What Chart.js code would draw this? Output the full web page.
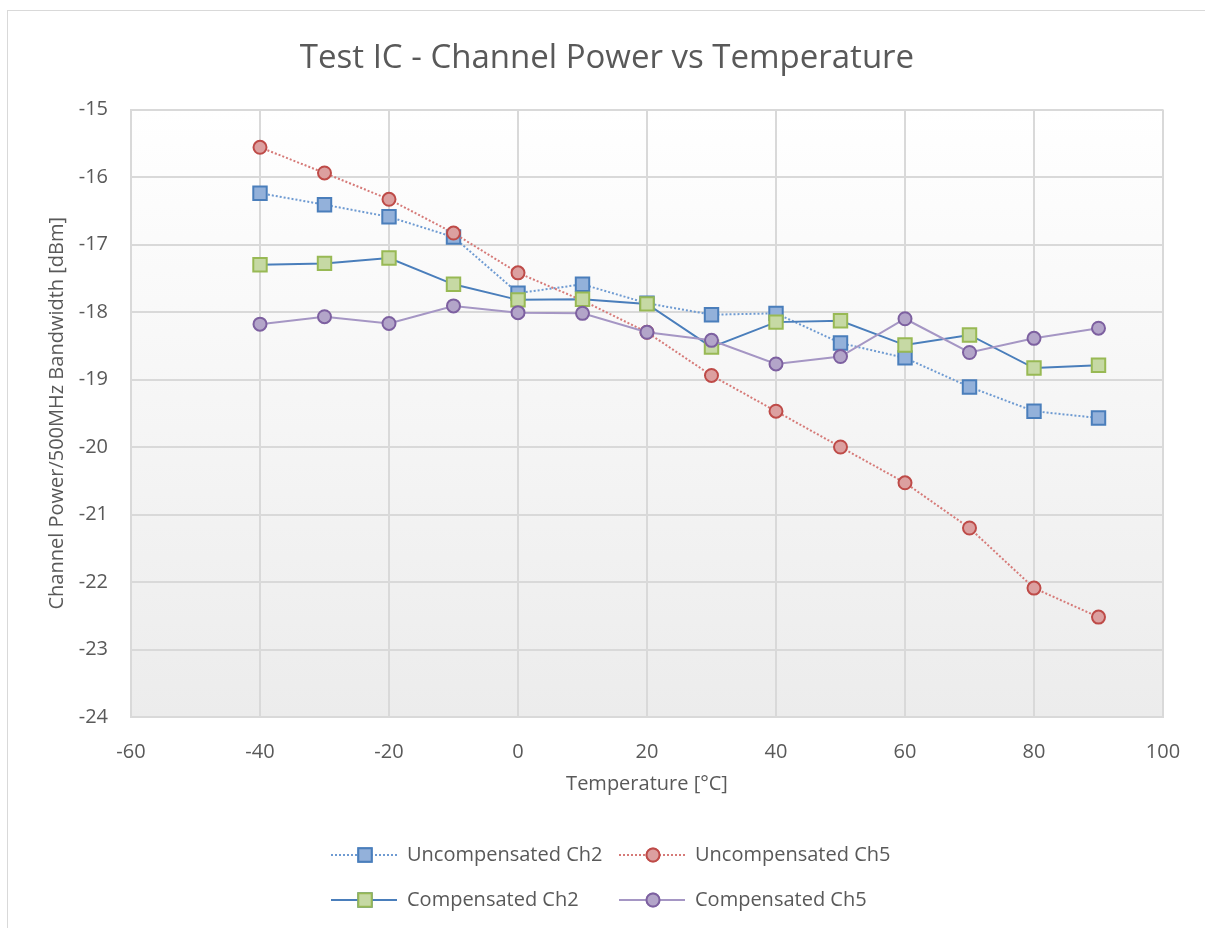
<!DOCTYPE html>
<html>
<head>
<meta charset="utf-8">
<script src="https://cdn.jsdelivr.net/npm/chart.js@4"></script>
<style>
  html, body { margin: 0; padding: 0; background: #fff; overflow: hidden; }
  .frame { position: absolute; left: 7px; top: 10px; width: 1220px; height: 940px; border: 1px solid #d9d9d9; }
  .wrap { position: absolute; left: 0; top: 1px; width: 1198px; height: 925px; }
</style>
</head>
<body>
<div class="frame"><div class="wrap"><canvas id="powerChart"></canvas></div></div>
<script>
// Nhiệt độ đo (°C)
const temps = [-40, -30, -20, -10, 0, 10, 20, 30, 40, 50, 60, 70, 80, 90];

// Công suất kênh (dBm)
const uncompCh2 = [-16.24, -16.41, -16.59, -16.89, -17.72, -17.59, -17.87, -18.04, -18.02, -18.46, -18.68, -19.11, -19.47, -19.57];
const uncompCh5 = [-15.56, -15.94, -16.33, -16.83, -17.42, -17.83, -18.30, -18.94, -19.47, -20.00, -20.53, -21.20, -22.09, -22.52];
const compCh2 = [-17.30, -17.28, -17.20, -17.59, -17.82, -17.81, -17.88, -18.52, -18.15, -18.13, -18.49, -18.34, -18.83, -18.79];
const compCh5 = [-18.18, -18.07, -18.17, -17.91, -18.01, -18.02, -18.30, -18.42, -18.77, -18.66, -18.10, -18.60, -18.39, -18.24];

const xTicks = [-60, -40, -20, 0, 20, 40, 60, 80, 100];
const yTicks = [-24, -23, -22, -21, -20, -19, -18, -17, -16, -15];

const FONT = "'Open Sans', sans-serif";
const GREY = '#595959';

const toPoints = (ys) => temps.map((t, i) => ({ x: t, y: ys[i] }));

// Nền gradient cho vùng vẽ
const plotBg = {
  id: 'plotBg',
  beforeDraw(chart) {
    const { ctx, chartArea: a } = chart;
    const g = ctx.createLinearGradient(0, a.top, 0, a.bottom);
    g.addColorStop(0, '#ffffff');
    g.addColorStop(1, '#ececec');
    ctx.save();
    ctx.fillStyle = g;
    ctx.fillRect(a.left, a.top, a.right - a.left, a.bottom - a.top);
    ctx.restore();
  }
};

// Chú thích 2 cột x 2 hàng như Excel
const gridLegend = {
  id: 'gridLegend',
  afterDraw(chart) {
    const { ctx } = chart;
    const cols = [323, 611];
    const rows = [843, 888];
    ctx.save();
    chart.data.datasets.forEach((ds, i) => {
      const x = cols[i % 2], y = rows[Math.floor(i / 2)];
      ctx.strokeStyle = ds.borderColor;
      ctx.lineWidth = ds.borderWidth;
      ctx.setLineDash(ds.borderDash || []);
      ctx.beginPath();
      ctx.moveTo(x, y);
      ctx.lineTo(x + 66, y);
      ctx.stroke();
      ctx.setLineDash([]);
      Chart.helpers.drawPoint(ctx, {
        pointStyle: ds.pointStyle,
        radius: ds.pointRadius,
        borderWidth: ds.pointBorderWidth,
        rotation: 0
      }, x + 34, y);
      ctx.fillStyle = ds.pointBackgroundColor;
      ctx.strokeStyle = ds.pointBorderColor;
      ctx.lineWidth = ds.pointBorderWidth;
      ctx.fill();
      ctx.stroke();
      ctx.fillStyle = GREY;
      ctx.font = '20px ' + FONT;
      ctx.textBaseline = 'middle';
      ctx.fillText(ds.label, x + 76, y);
    });
    ctx.restore();
  }
};

const powerChart = new Chart(document.getElementById('powerChart'), {
  type: 'scatter',
  data: {
    datasets: [{
      label: 'Uncompensated Ch2',
      data: toPoints(uncompCh2),
      order: 4,
      showLine: true,
      borderColor: '#6f9bd2',
      borderWidth: 2,
      borderDash: [2, 2],
      pointStyle: 'rect',
      pointRadius: 9.5,
      pointBorderWidth: 2,
      pointBackgroundColor: '#93b1da',
      pointBorderColor: '#4a7ebb',
    }, {
      label: 'Uncompensated Ch5',
      data: toPoints(uncompCh5),
      order: 3,
      showLine: true,
      borderColor: '#d67a78',
      borderWidth: 2,
      borderDash: [2, 2],
      pointStyle: 'circle',
      pointRadius: 6.5,
      pointBorderWidth: 2,
      pointBackgroundColor: '#dca0a0',
      pointBorderColor: '#be4b48',
    }, {
      label: 'Compensated Ch2',
      data: toPoints(compCh2),
      order: 2,
      showLine: true,
      borderColor: '#4a7ebb',
      borderWidth: 2,
      pointStyle: 'rect',
      pointRadius: 9.5,
      pointBorderWidth: 2,
      pointBackgroundColor: '#c6d9a4',
      pointBorderColor: '#98b954',
    }, {
      label: 'Compensated Ch5',
      data: toPoints(compCh5),
      order: 1,
      showLine: true,
      borderColor: '#a596c4',
      borderWidth: 2,
      pointStyle: 'circle',
      pointRadius: 6.5,
      pointBorderWidth: 2,
      pointBackgroundColor: '#b3a5c9',
      pointBorderColor: '#7d60a0',
    }]
  },
  options: {
    responsive: true,
    maintainAspectRatio: false,
    animation: false,
    layout: { padding: { left: 0, right: 0, top: 0, bottom: 125 } },
    plugins: {
      legend: { display: false },
      tooltip: { enabled: false },
      title: {
        display: true,
        text: 'Test IC - Channel Power vs Temperature',
        color: GREY,
        font: { family: FONT, size: 33, weight: 'normal' },
        padding: { top: 27, bottom: 30.9 }
      }
    },
    scales: {
      x: {
        type: 'linear',
        min: -60,
        max: 100,
        afterBuildTicks: (s) => { s.ticks = xTicks.map(v => ({ value: v })); },
        afterFit: (s) => { s.height = 95; },
        grid: { color: '#d9d9d9', lineWidth: 2, drawTicks: false },
        border: { color: '#d9d9d9', width: 2 },
        ticks: { color: GREY, padding: 23, font: { family: FONT, size: 20 } },
        title: {
          display: true,
          text: 'Temperature [°C]',
          color: GREY,
          font: { family: FONT, size: 20 },
          padding: { top: 0, bottom: 16 }
        }
      },
      y: {
        type: 'linear',
        min: -24,
        max: -15,
        afterBuildTicks: (s) => { s.ticks = yTicks.map(v => ({ value: v })); },
        afterFit: (s) => { s.width = 123; },
        grid: { color: '#d9d9d9', lineWidth: 2, drawTicks: false },
        border: { color: '#d9d9d9', width: 2 },
        ticks: { color: GREY, padding: 23, font: { family: FONT, size: 20 } },
        title: {
          display: true,
          text: 'Channel Power/500MHz Bandwidth [dBm]',
          color: GREY,
          font: { family: FONT, size: 20 },
          padding: { top: 37, bottom: 0 }
        }
      },
      // trục phụ rỗng để chừa lề phải, giữ tiêu đề ở giữa
      yRight: {
        type: 'linear',
        position: 'right',
        afterFit: (s) => { s.width = 43; },
        grid: { display: false },
        border: { display: false },
        ticks: { display: false }
      }
    }
  },
  plugins: [plotBg, gridLegend]
});
</script>
</body>
</html>
